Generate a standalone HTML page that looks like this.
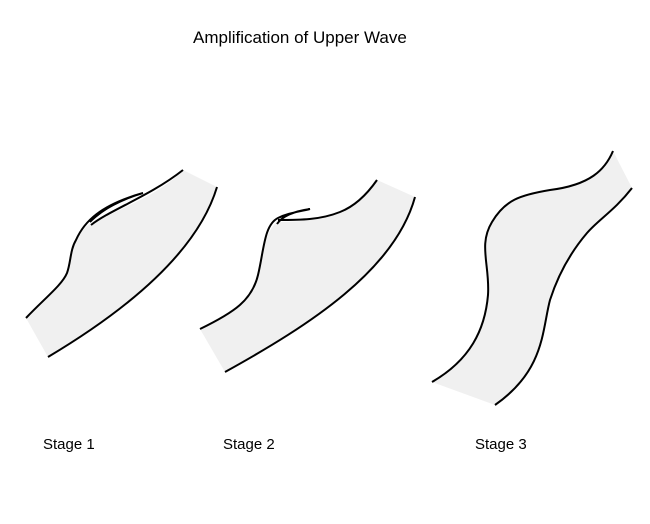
<!DOCTYPE html>
<html><head><meta charset="utf-8"><style>
html,body{margin:0;padding:0;background:#fff;}
svg{display:block;}
text{font-family:"Liberation Sans",sans-serif;font-size:15px;fill:#000;}
</style></head><body>
<svg width="650" height="524" viewBox="0 0 650 524" xmlns="http://www.w3.org/2000/svg">
<text x="193" y="43" style="font-size:17px">Amplification of Upper Wave</text>
<text x="43" y="449">Stage 1</text>
<text x="223" y="449">Stage 2</text>
<text x="475" y="449">Stage 3</text>

<!-- Stage 1 -->
<path d="M26,318 C45,298 62,285 67,273 C71,262 70,250 76,240 C82,230 88,224 92,224 C120,208 160,195 183,170 L217,187 C195,260 110,320 48,357 Z" fill="#f0f0f0" stroke="none"/>
<path d="M26,318 C45,298 62,285 67,273 C71,262 70,250 76,240 C84,222 100,205 143,193 C125,198 100,210 90,222" fill="none" stroke="#000" stroke-width="2"/>
<path d="M91,225 C110,210 150,196 183,170" fill="none" stroke="#000" stroke-width="2"/>
<path d="M48,357 C110,320 195,260 217,187" fill="none" stroke="#000" stroke-width="2"/>
<path d="M90,222 C105,208 120,200 143,193" fill="none" stroke="#000" stroke-width="1.5"/>

<!-- Stage 2 -->
<path d="M200,329 C235,312 252,300 258,275 C264,250 265,232 277,222 C300,222 320,220 340,212 C358,205 370,190 377,180 L415,197 C395,270 310,325 225,372 Z" fill="#f0f0f0" stroke="none"/>
<path d="M200,329 C235,312 252,300 258,275 C264,250 264,225 278,218 C288,213 298,212 310,209 C296,211 283,215 277,224" fill="none" stroke="#000" stroke-width="2"/>
<path d="M278,220 C300,220 320,220 340,212 C358,205 370,190 377,180" fill="none" stroke="#000" stroke-width="2"/>
<path d="M225,372 C310,325 395,270 415,197" fill="none" stroke="#000" stroke-width="2"/>

<!-- Stage 3 -->
<path d="M432,382 C470,360 485,330 488,295 C490,265 478,245 492,222 C505,200 520,195 550,190 C590,185 605,170 613,151 L632,188 C615,210 598,220 587,233 C570,253 558,275 550,300 C542,330 545,370 495,405 Z" fill="#f0f0f0" stroke="none"/>
<path d="M432,382 C470,360 485,330 488,295 C490,265 478,245 492,222 C505,200 520,195 550,190 C590,185 605,170 613,151" fill="none" stroke="#000" stroke-width="2"/>
<path d="M632,188 C615,210 598,220 587,233 C570,253 558,275 550,300 C542,330 545,370 495,405" fill="none" stroke="#000" stroke-width="2"/>
</svg>
</body></html>
